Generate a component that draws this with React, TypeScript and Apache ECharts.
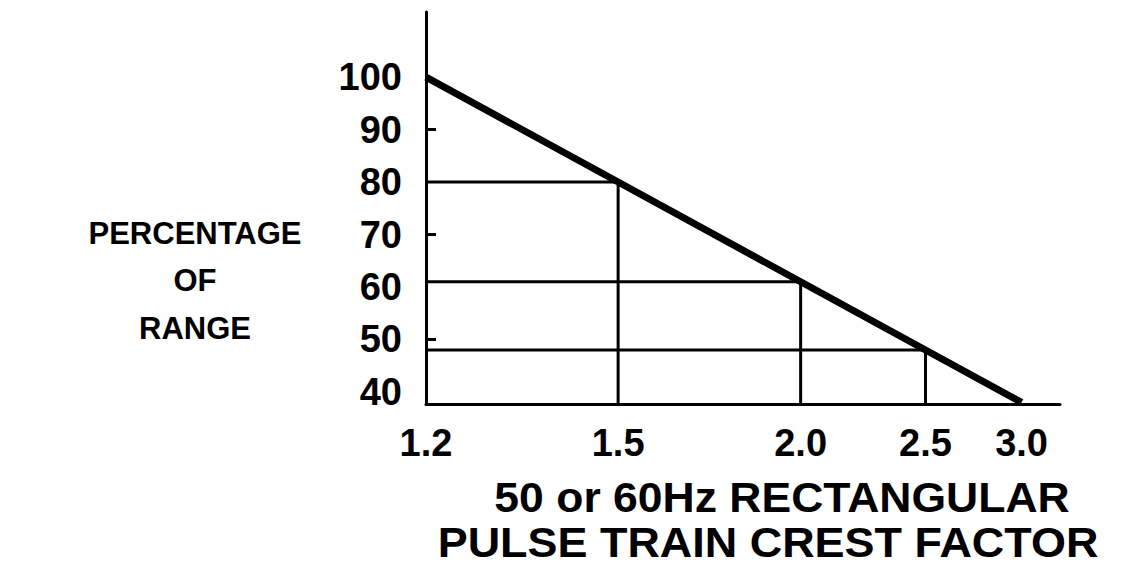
import React, { useEffect, useRef } from "react";
import * as echarts from "echarts";

// Crest factor labels on the x axis and the percentage of range each maps to
const crestFactors = ["1.2", "1.5", "2.0", "2.5", "3.0"];
const percentOfRange = [100, 80, 61, 48, 38];
// y-axis tick labels and short inward tick marks
const yTickLabels = [40, 50, 60, 70, 80, 90, 100];
const yShortTicks = [50, 70, 90];
// which points get drop lines to both axes
const guideIndices = [1, 2, 3];

const yAxisTitle = ["PERCENTAGE", "OF", "RANGE"];
const xAxisTitle = ["50 or 60Hz RECTANGULAR", "PULSE TRAIN CREST FACTOR"];

const FONT = "'Liberation Sans', Arial, Helvetica, sans-serif";
const X_MIN = 34;
const X_MAX = 100;
const Y_MIN = 37.7;
const Y_MAX = 112.4;

export default function App() {
  const ref = useRef<HTMLDivElement>(null);

  useEffect(() => {
    if (!ref.current) return;
    const chart = echarts.init(ref.current, null, { renderer: "svg" });

    const guideSeries = guideIndices.map((i) => {
      const p = percentOfRange[i];
      return {
        type: "line",
        data: [
          [X_MAX, p],
          [p, p],
          [p, Y_MIN],
        ],
        symbol: "none",
        lineStyle: { color: "#000", width: 3 },
        z: 2,
        silent: true,
      };
    });

    chart.setOption({
      animation: false,
      backgroundColor: "#fff",
      grid: { left: 426, top: 12, width: 634, height: 392, containLabel: false },
      xAxis: {
        type: "value",
        min: X_MIN,
        max: X_MAX,
        inverse: true,
        splitLine: { show: false },
        axisLine: { show: true, lineStyle: { color: "#000", width: 3 } },
        axisTick: { show: false },
        axisLabel: {
          customValues: percentOfRange,
          formatter: (v: number) => {
            const i = percentOfRange.indexOf(v);
            return i >= 0 ? crestFactors[i] : "";
          },
          color: "#000",
          fontSize: 38,
          fontWeight: "bold",
          fontFamily: FONT,
          margin: 20,
        },
      },
      yAxis: {
        type: "value",
        min: Y_MIN,
        max: Y_MAX,
        splitLine: { show: false },
        axisLine: { show: true, lineStyle: { color: "#000", width: 3 } },
        axisTick: {
          show: true,
          inside: true,
          length: 10,
          customValues: yShortTicks,
          lineStyle: { color: "#000", width: 3 },
        },
        axisLabel: {
          customValues: yTickLabels,
          color: "#000",
          fontSize: 38,
          fontWeight: "bold",
          fontFamily: FONT,
          margin: 24,
        },
      },
      graphic: [
        ...yAxisTitle.map((t, i) => ({
          type: "text",
          x: 195,
          y: 233 + i * 47.5,
          style: {
            text: t,
            fill: "#000",
            font: `bold 31px ${FONT}`,
            textAlign: "center",
            textVerticalAlign: "middle",
          },
        })),
        {
          type: "text",
          x: 782,
          y: 497,
          scaleX: 1.06,
          style: {
            text: xAxisTitle[0],
            fill: "#000",
            font: `bold 42px ${FONT}`,
            textAlign: "center",
            textVerticalAlign: "middle",
          },
        },
        {
          type: "text",
          x: 768,
          y: 543,
          scaleX: 1.07,
          style: {
            text: xAxisTitle[1],
            fill: "#000",
            font: `bold 42px ${FONT}`,
            textAlign: "center",
            textVerticalAlign: "middle",
          },
        },
      ],
      series: [
        ...guideSeries,
        {
          type: "line",
          data: percentOfRange.map((p) => [p, p]),
          symbol: "none",
          lineStyle: { color: "#000", width: 7 },
          z: 3,
          silent: true,
        },
      ],
    });

    return () => chart.dispose();
  }, []);

  return (
    <div
      ref={ref}
      style={{ position: "fixed", left: 0, top: 0, width: 1123, height: 572 }}
    />
  );
}
